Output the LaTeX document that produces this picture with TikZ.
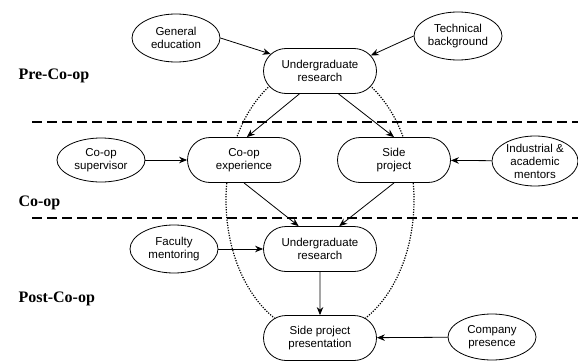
\documentclass[tikz,border=0pt]{standalone}
\usepackage{fontspec}
\setmainfont{Liberation Serif}
\setsansfont{Liberation Sans}
\usetikzlibrary{shapes.geometric}
\usetikzlibrary{shapes.misc}
\usetikzlibrary{arrows.meta}

\begin{document}
\begin{tikzpicture}[%
  >={Stealth[length=8pt,width=6.5pt]},
  x=1pt, y=-1pt,
  every node/.style={font=\sffamily\fontsize{11.5}{13}\selectfont, align=center},
  stage/.style={rounded rectangle, draw, fill=white, line width=0.8pt,
    minimum width=113pt, minimum height=45pt, inner sep=0pt},
  factor/.style={ellipse, draw, fill=white, line width=0.8pt,
    minimum width=88pt, minimum height=48pt, inner sep=0pt},
  phase/.style={font=\rmfamily\bfseries\fontsize{16}{18}\selectfont},
  divider/.style={line width=1.6pt, dash pattern=on 10pt off 5pt},
  link/.style={->, line width=0.8pt}
]

  \useasboundingbox (0,0) rectangle (578,361);

  % phases
  \node[phase, anchor=base west] (pre) at (15,80) {Pre-Co-op};
  \node[phase, anchor=base west] (coop) at (15,206) {Co-op};
  \node[phase, anchor=base west] (post) at (15,302) {Post-Co-op};

  \draw[divider] (32,122) -- (578,122);
  \draw[divider] (32,218) -- (578,218);

  % loop round the research
  \draw[line width=1.2pt, dash pattern=on 1.2pt off 1.4pt]
    (320,200) ellipse [x radius=94pt, y radius=135pt];

  \node[factor] (genedu) at (176,38) {General\\education};
  \node[factor] (techbg) at (458,36) {Technical\\background};
  \node[stage] (ugtop) at (320,71) {Undergraduate\\research};

  \node[factor, minimum height=44pt] (coopsup) at (101,160) {Co-op\\supervisor};
  \node[stage] (coopexp) at (244,160) {Co-op\\experience};
  \node[stage] (sideproj) at (394,160) {Side\\project};
  \node[factor, minimum width=86pt, minimum height=50pt, inner ysep=-1pt] (mentors)
    at (535,161) {Industrial \&\\academic\\mentors};

  \node[factor] (faculty) at (174,249) {Faculty\\mentoring};
  \node[stage] (ugbot) at (320,249) {Undergraduate\\research};
  \node[stage] (sidepres) at (320,338) {Side project\\presentation};
  \node[factor, minimum height=46pt] (company) at (492,337) {Company\\presence};

  \draw[link] (genedu.east) -- (ugtop.161);
  \draw[link] (techbg.west) -- (ugtop.17);
  \draw[link] (ugtop.228) -- (coopexp.83);
  \draw[link] (ugtop.309) -- (sideproj.north);
  \draw[link] (coopsup) -- (coopexp);
  \draw[link] (mentors) -- (sideproj);
  \draw[link] (coopexp.south) -- (ugbot.133);
  \draw[link] (sideproj.south) -- (ugbot.50);
  \draw[link] (faculty) -- (ugbot);
  \draw[link] (ugbot) -- (sidepres);
  \draw[link] (company) -- (sidepres);

\end{tikzpicture}
\end{document}
